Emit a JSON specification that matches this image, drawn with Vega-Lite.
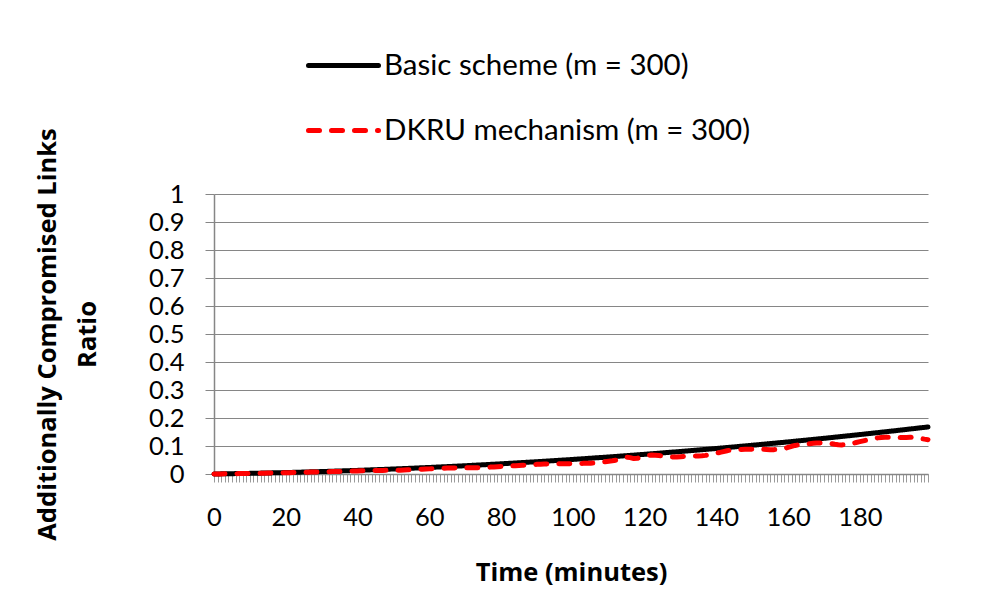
{
"$schema":"https://vega.github.io/schema/vega-lite/v6.json",
"width":714,"height":280,
"autosize":{"type":"none"},
"padding":{"left":214,"top":194,"right":56,"bottom":134},
"background":"white",
"config":{"view":{"stroke":null},"font":"Lato"},
"data":{"values":[
{"t":0,"b":0,"d":0},{"t":1,"b":0.0002,"d":0.0002},{"t":2,"b":0.0005,"d":0.0004},{"t":3,"b":0.0007,"d":0.0006},{"t":4,"b":0.0009,"d":0.0008},{"t":5,"b":0.0011,"d":0.0010},{"t":6,"b":0.0014,"d":0.0012},{"t":7,"b":0.0016,"d":0.0014},{"t":8,"b":0.0018,"d":0.0016},{"t":9,"b":0.0020,"d":0.0018},
{"t":10,"b":0.0023,"d":0.0020},{"t":11,"b":0.0026,"d":0.0022},{"t":12,"b":0.0028,"d":0.0024},{"t":13,"b":0.0031,"d":0.0027},{"t":14,"b":0.0034,"d":0.0030},{"t":15,"b":0.0037,"d":0.0033},{"t":16,"b":0.0040,"d":0.0036},{"t":17,"b":0.0043,"d":0.0039},{"t":18,"b":0.0046,"d":0.0042},{"t":19,"b":0.0049,"d":0.0044},
{"t":20,"b":0.0052,"d":0.0046},{"t":21,"b":0.0055,"d":0.0049},{"t":22,"b":0.0059,"d":0.0052},{"t":23,"b":0.0062,"d":0.0055},{"t":24,"b":0.0066,"d":0.0058},{"t":25,"b":0.0069,"d":0.0061},{"t":26,"b":0.0073,"d":0.0064},{"t":27,"b":0.0077,"d":0.0067},{"t":28,"b":0.0080,"d":0.0070},{"t":29,"b":0.0084,"d":0.0073},
{"t":30,"b":0.0087,"d":0.0076},{"t":31,"b":0.0091,"d":0.0079},{"t":32,"b":0.0096,"d":0.0082},{"t":33,"b":0.0100,"d":0.0085},{"t":34,"b":0.0104,"d":0.0088},{"t":35,"b":0.0108,"d":0.0091},{"t":36,"b":0.0113,"d":0.0094},{"t":37,"b":0.0117,"d":0.0097},{"t":38,"b":0.0121,"d":0.0101},{"t":39,"b":0.0125,"d":0.0105},
{"t":40,"b":0.0129,"d":0.0109},{"t":41,"b":0.0134,"d":0.0113},{"t":42,"b":0.0139,"d":0.0117},{"t":43,"b":0.0144,"d":0.0120},{"t":44,"b":0.0149,"d":0.0122},{"t":45,"b":0.0154,"d":0.0124},{"t":46,"b":0.0159,"d":0.0126},{"t":47,"b":0.0163,"d":0.0128},{"t":48,"b":0.0168,"d":0.0130},{"t":49,"b":0.0173,"d":0.0132},
{"t":50,"b":0.0178,"d":0.0134},{"t":51,"b":0.0184,"d":0.0136},{"t":52,"b":0.0189,"d":0.0138},{"t":53,"b":0.0195,"d":0.0142},{"t":54,"b":0.0200,"d":0.0148},{"t":55,"b":0.0206,"d":0.0155},{"t":56,"b":0.0211,"d":0.0162},{"t":57,"b":0.0217,"d":0.0168},{"t":58,"b":0.0223,"d":0.0173},{"t":59,"b":0.0228,"d":0.0178},
{"t":60,"b":0.0233,"d":0.0183},{"t":61,"b":0.0240,"d":0.0188},{"t":62,"b":0.0246,"d":0.0194},{"t":63,"b":0.0252,"d":0.0200},{"t":64,"b":0.0258,"d":0.0206},{"t":65,"b":0.0264,"d":0.0211},{"t":66,"b":0.0270,"d":0.0215},{"t":67,"b":0.0277,"d":0.0218},{"t":68,"b":0.0283,"d":0.0220},{"t":69,"b":0.0289,"d":0.0221},
{"t":70,"b":0.0295,"d":0.0222},{"t":71,"b":0.0302,"d":0.0222},{"t":72,"b":0.0309,"d":0.0222},{"t":73,"b":0.0316,"d":0.0223},{"t":74,"b":0.0323,"d":0.0226},{"t":75,"b":0.0330,"d":0.0231},{"t":76,"b":0.0336,"d":0.0238},{"t":77,"b":0.0343,"d":0.0246},{"t":78,"b":0.0350,"d":0.0254},{"t":79,"b":0.0357,"d":0.0261},
{"t":80,"b":0.0364,"d":0.0268},{"t":81,"b":0.0371,"d":0.0275},{"t":82,"b":0.0379,"d":0.0282},{"t":83,"b":0.0386,"d":0.0289},{"t":84,"b":0.0394,"d":0.0296},{"t":85,"b":0.0401,"d":0.0303},{"t":86,"b":0.0409,"d":0.0311},{"t":87,"b":0.0416,"d":0.0319},{"t":88,"b":0.0424,"d":0.0328},{"t":89,"b":0.0431,"d":0.0337},
{"t":90,"b":0.0439,"d":0.0345},{"t":91,"b":0.0447,"d":0.0352},{"t":92,"b":0.0455,"d":0.0357},{"t":93,"b":0.0463,"d":0.0360},{"t":94,"b":0.0471,"d":0.0362},{"t":95,"b":0.0479,"d":0.0363},{"t":96,"b":0.0488,"d":0.0364},{"t":97,"b":0.0496,"d":0.0365},{"t":98,"b":0.0504,"d":0.0367},{"t":99,"b":0.0512,"d":0.0370},
{"t":100,"b":0.0520,"d":0.0373},{"t":101,"b":0.0529,"d":0.0376},{"t":102,"b":0.0538,"d":0.0378},{"t":103,"b":0.0546,"d":0.0380},{"t":104,"b":0.0555,"d":0.0383},{"t":105,"b":0.0564,"d":0.0388},{"t":106,"b":0.0573,"d":0.0396},{"t":107,"b":0.0582,"d":0.0408},{"t":108,"b":0.0590,"d":0.0423},{"t":109,"b":0.0599,"d":0.0440},
{"t":110,"b":0.0608,"d":0.0458},{"t":111,"b":0.0617,"d":0.0475},{"t":112,"b":0.0627,"d":0.0495},{"t":113,"b":0.0636,"d":0.0520},{"t":114,"b":0.0646,"d":0.0570},{"t":115,"b":0.0655,"d":0.0600},{"t":116,"b":0.0665,"d":0.0585},{"t":117,"b":0.0674,"d":0.0550},{"t":118,"b":0.0684,"d":0.0560},{"t":119,"b":0.0693,"d":0.0610},
{"t":120,"b":0.0703,"d":0.0650},{"t":121,"b":0.0713,"d":0.0670},{"t":122,"b":0.0723,"d":0.0675},{"t":123,"b":0.0733,"d":0.0670},{"t":124,"b":0.0743,"d":0.0660},{"t":125,"b":0.0753,"d":0.0645},{"t":126,"b":0.0764,"d":0.0625},{"t":127,"b":0.0774,"d":0.0610},{"t":128,"b":0.0784,"d":0.0605},{"t":129,"b":0.0794,"d":0.0610},
{"t":130,"b":0.0804,"d":0.0620},{"t":131,"b":0.0815,"d":0.0630},{"t":132,"b":0.0825,"d":0.0638},{"t":133,"b":0.0836,"d":0.0643},{"t":134,"b":0.0847,"d":0.0645},{"t":135,"b":0.0858,"d":0.0647},{"t":136,"b":0.0868,"d":0.0652},{"t":137,"b":0.0879,"d":0.0665},{"t":138,"b":0.0890,"d":0.0690},{"t":139,"b":0.0901,"d":0.0720},
{"t":140,"b":0.0911,"d":0.0745},{"t":141,"b":0.0923,"d":0.0770},{"t":142,"b":0.0934,"d":0.0800},{"t":143,"b":0.0946,"d":0.0830},{"t":144,"b":0.0957,"d":0.0855},{"t":145,"b":0.0968,"d":0.0870},{"t":146,"b":0.0980,"d":0.0875},{"t":147,"b":0.0991,"d":0.0878},{"t":148,"b":0.1003,"d":0.0880},{"t":149,"b":0.1014,"d":0.0883},
{"t":150,"b":0.1026,"d":0.0885},{"t":151,"b":0.1038,"d":0.0887},{"t":152,"b":0.1050,"d":0.0887},{"t":153,"b":0.1062,"d":0.0882},{"t":154,"b":0.1074,"d":0.0875},{"t":155,"b":0.1086,"d":0.0870},{"t":156,"b":0.1098,"d":0.0870},{"t":157,"b":0.1110,"d":0.0875},{"t":158,"b":0.1122,"d":0.0885},{"t":159,"b":0.1134,"d":0.0910},
{"t":160,"b":0.1146,"d":0.0950},{"t":161,"b":0.1159,"d":0.0990},{"t":162,"b":0.1172,"d":0.1020},{"t":163,"b":0.1185,"d":0.1040},{"t":164,"b":0.1197,"d":0.1055},{"t":165,"b":0.1210,"d":0.1068},{"t":166,"b":0.1223,"d":0.1080},{"t":167,"b":0.1235,"d":0.1095},{"t":168,"b":0.1248,"d":0.1105},{"t":169,"b":0.1261,"d":0.1110},
{"t":170,"b":0.1274,"d":0.1108},{"t":171,"b":0.1287,"d":0.1100},{"t":172,"b":0.1301,"d":0.1085},{"t":173,"b":0.1314,"d":0.1060},{"t":174,"b":0.1327,"d":0.1045},{"t":175,"b":0.1341,"d":0.1040},{"t":176,"b":0.1354,"d":0.1045},{"t":177,"b":0.1368,"d":0.1060},{"t":178,"b":0.1381,"d":0.1090},{"t":179,"b":0.1394,"d":0.1125},
{"t":180,"b":0.1408,"d":0.1155},{"t":181,"b":0.1422,"d":0.1185},{"t":182,"b":0.1436,"d":0.1215},{"t":183,"b":0.1450,"d":0.1245},{"t":184,"b":0.1464,"d":0.1270},{"t":185,"b":0.1478,"d":0.1290},{"t":186,"b":0.1492,"d":0.1305},{"t":187,"b":0.1506,"d":0.1310},{"t":188,"b":0.1520,"d":0.1310},{"t":189,"b":0.1534,"d":0.1305},
{"t":190,"b":0.1548,"d":0.1300},{"t":191,"b":0.1563,"d":0.1300},{"t":192,"b":0.1577,"d":0.1302},{"t":193,"b":0.1592,"d":0.1305},{"t":194,"b":0.1607,"d":0.1310},{"t":195,"b":0.1621,"d":0.1305},{"t":196,"b":0.1636,"d":0.1290},{"t":197,"b":0.1651,"d":0.1270},{"t":198,"b":0.1665,"d":0.1245},{"t":199,"b":0.1680,"d":0.1225}
]},
"transform":[{"fold":["b","d"],"as":["series","value"]}],
"mark":{"type":"line","strokeWidth":5,"strokeCap":"round","strokeJoin":"round","clip":false},
"encoding":{
"x":{"field":"t","type":"quantitative","scale":{"domain":[0,199],"nice":false,"zero":false},
"axis":{"title":"Time (minutes)","tickCount":199,"labelExpr":"datum.value % 20 === 0 ? datum.label : ''","labelOverlap":false,"labelFlush":false,"labelBound":false,"grid":false,"domainColor":"#868686","domainWidth":1.5,"tickColor":"#9a9a9a","tickSize":8,"tickWidth":1,"labelFont":"Lato","labelFontSize":25.5,"labelColor":"#000000","labelPadding":23,"labelBaseline":"top","titleFont":"Open Sans","titleFontSize":25.5,"titleFontWeight":"bold","titleColor":"#000000","titleBaseline":"top","titleY":86,"titleX":357,"titleAnchor":"middle"}},
"y":{"field":"value","type":"quantitative","scale":{"domain":[0,1],"nice":false},
"axis":{"title":["Additionally Compromised Links","Ratio"],"tickCount":10,"format":"~g","grid":true,"gridColor":"#868686","gridWidth":1,"domainColor":"#868686","domainWidth":1.5,"tickColor":"#868686","tickSize":9,"tickWidth":1,"labelFont":"Lato","labelFontSize":25.5,"labelColor":"#000000","labelPadding":21,"labelOverlap":false,"labelFlush":false,"labelBound":false,"titleFont":"Open Sans","titleFontSize":25.5,"titleFontWeight":"bold","titleColor":"#000000","titleAngle":-90,"titleBaseline":"top","titleAlign":"center","titleLineHeight":40,"titleX":-179,"titleY":140}},
"color":{"field":"series","type":"nominal","scale":{"domain":["b","d"],"range":["#000000","#ff0000"]},
"legend":{"orient":"none","legendX":92,"legendY":-166,"title":null,"padding":0,"symbolType":"stroke","symbolSize":4900,"symbolStrokeWidth":5,"labelFont":"Lato","labelFontSize":29.5,"labelColor":"#000000","labelLimit":0,"labelOffset":3,"rowPadding":13,"labelExpr":"datum.label == 'b' ? 'Basic scheme (m = 300)' : 'DKRU mechanism (m = 300)'","encode":{"symbols":{"update":{"strokeCap":{"value":"round"}}}}}},
"strokeDash":{"field":"series","type":"nominal","scale":{"domain":["b","d"],"range":[[1,0],[11,12]]},"legend":null}
}
}
